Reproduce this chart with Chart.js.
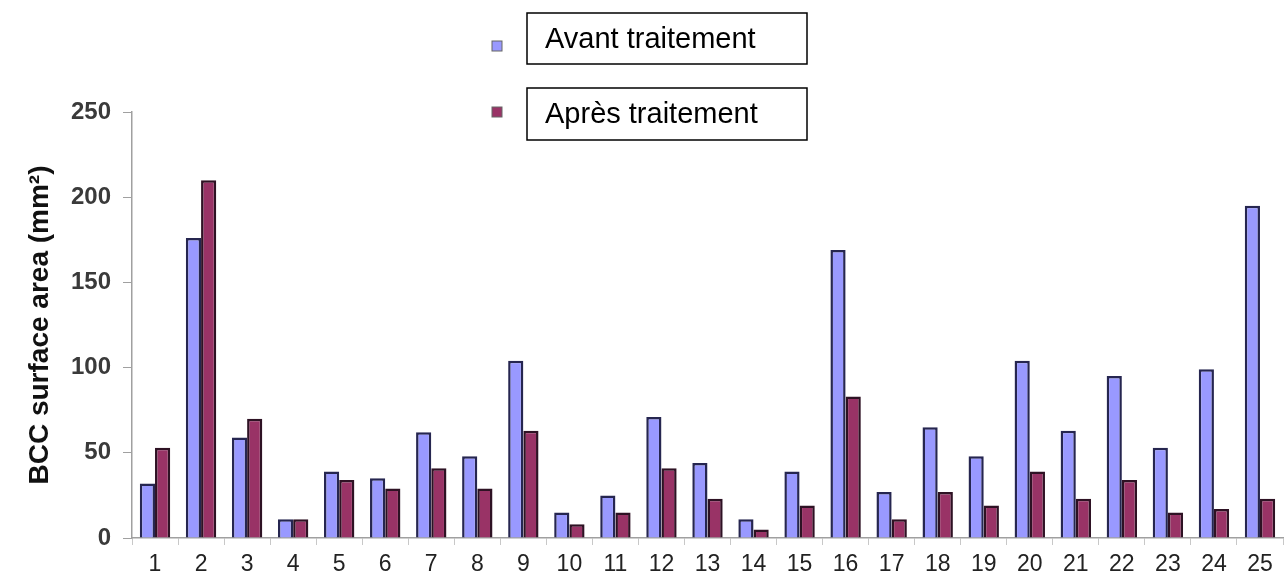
<!DOCTYPE html>
<html>
<head>
<meta charset="utf-8">
<script src="https://cdn.jsdelivr.net/npm/chart.js@4"></script>
<style>
  html, body { margin: 0; padding: 0; background: #fff; }
  #wrap { width: 1288px; height: 586px; }
</style>
</head>
<body>
<div id="wrap"><canvas id="grafico" width="1288" height="586"></canvas></div>
<script>
const categorias = ['1', '2', '3', '4', '5', '6', '7', '8', '9', '10', '11', '12', '13',
    '14', '15', '16', '17', '18', '19', '20', '21', '22', '23', '24', '25'];

const avant = [32, 176, 59, 11, 39, 35, 62, 48, 104, 15, 25, 71, 44,
    11, 39, 169, 27, 65, 48, 104, 63, 95, 53, 99, 195];

const apres = [53, 210, 70, 11, 34, 29, 41, 29, 63, 8, 15, 41, 23,
    5, 19, 83, 11, 27, 19, 39, 23, 34, 15, 17, 23];

const legendas = ['Avant traitement', 'Après traitement'];
const yMax = 250;
const yStep = 50;

// legende dessinee a la main : petits carres + cadres
const legendeCadres = {
    id: 'legendeCadres',
    afterDraw(chart) {
        const ctx = chart.ctx;
        const boites = [{ y: 13, h: 51, cy: 46 }, { y: 88, h: 52, cy: 112 }];
        ctx.save();
        chart.data.datasets.forEach((ds, i) => {
            const b = boites[i];
            ctx.fillStyle = ds.backgroundColor;
            ctx.strokeStyle = '#666';
            ctx.lineWidth = 1;
            ctx.fillRect(492, b.cy - 5, 10, 10);
            ctx.strokeRect(492, b.cy - 5, 10, 10);
            ctx.fillStyle = '#fff';
            ctx.fillRect(527, b.y, 280, b.h);
            ctx.strokeStyle = '#000';
            ctx.lineWidth = 1.5;
            ctx.strokeRect(527, b.y, 280, b.h);
            ctx.fillStyle = '#000';
            ctx.font = '29px "Liberation Sans", Arial, sans-serif';
            ctx.textBaseline = 'middle';
            ctx.fillText(ds.label, 545, b.y + b.h / 2 + 1);
        });
        ctx.restore();
    }
};

const data = {
    labels: categorias,
    datasets: [{
        label: legendas[0],
        data: avant,
        backgroundColor: '#9999ff',
        borderColor: '#262650',
        borderWidth: 2.5,
        barPercentage: 1,
        categoryPercentage: 0.66
    }, {
        label: legendas[1],
        data: apres,
        backgroundColor: '#993366',
        borderColor: '#2e1224',
        borderWidth: 2.5,
        barPercentage: 1,
        categoryPercentage: 0.66
    }]
};

const config = {
    type: 'bar',
    data: data,
    options: {
        responsive: false,
        animation: false,
        layout: {
            padding: { top: 112, right: 5, left: 0, bottom: 0 }
        },
        plugins: {
            legend: { display: false },
            tooltip: { enabled: false }
        },
        scales: {
            x: {
                grid: {
                    drawOnChartArea: false,
                    tickLength: 7,
                    color: '#c8c8c8'
                },
                border: { color: '#a0a0a0', width: 1.5 },
                ticks: {
                    color: '#222',
                    padding: 6,
                    font: { family: '"Liberation Sans", Arial, sans-serif', size: 23 }
                },
                afterFit(scale) { scale.height = 48; }
            },
            y: {
                min: 0,
                max: yMax,
                grid: {
                    drawOnChartArea: false,
                    tickLength: 9,
                    color: '#a0a0a0'
                },
                border: { color: '#a0a0a0', width: 1.5 },
                ticks: {
                    stepSize: yStep,
                    color: '#3a3a3a',
                    padding: 12,
                    font: { family: '"Liberation Sans", Arial, sans-serif', size: 24, weight: 'bold' }
                },
                title: {
                    display: true,
                    text: 'BCC surface area (mm²)',
                    color: '#111',
                    padding: { top: 23, bottom: 0 },
                    font: { family: '"Liberation Sans", Arial, sans-serif', size: 28, weight: 'bold' }
                },
                afterFit(scale) { scale.width = 132; }
            }
        }
    },
    plugins: [legendeCadres]
};

const grafico = new Chart(document.getElementById('grafico'), config);
</script>
</body>
</html>
